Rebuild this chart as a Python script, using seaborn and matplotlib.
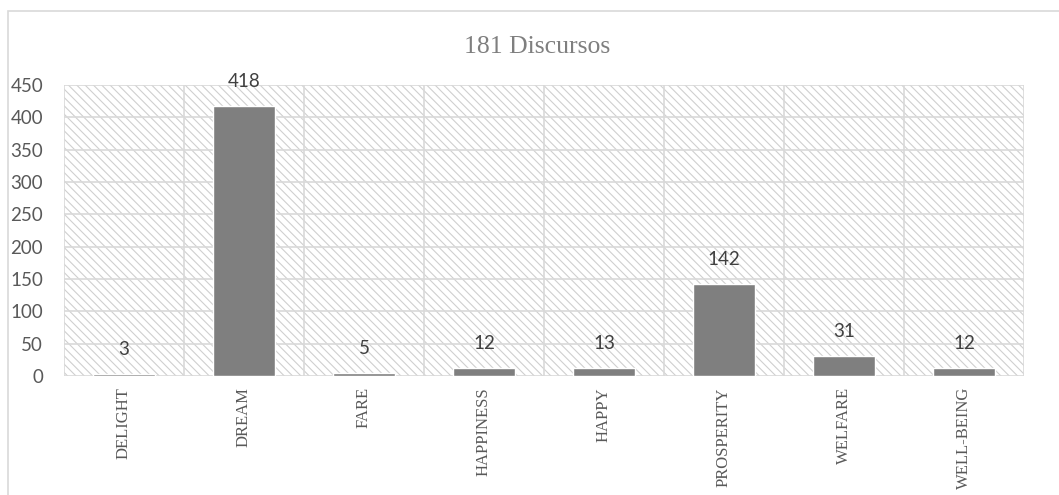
import matplotlib
matplotlib.use("Agg")
import matplotlib.pyplot as plt
import seaborn as sns
import pandas as pd
import numpy as np
from matplotlib.patches import Rectangle
from matplotlib.ticker import FixedLocator

categories = ["DELIGHT", "DREAM", "FARE", "HAPPINESS", "HAPPY", "PROSPERITY", "WELFARE", "WELL-BEING"]
values = [3, 418, 5, 12, 13, 142, 31, 12]
yticks = [0, 50, 100, 150, 200, 250, 300, 350, 400, 450]
title = "181 Discursos"

sns.set_theme(style="white")
plt.rcParams["hatch.linewidth"] = 0.8

df = pd.DataFrame({"cat": categories, "val": values})

fig = plt.figure(figsize=(10.59, 4.95), dpi=100)
ax = fig.add_axes([64 / 1059, 1 - 376 / 495, 960 / 1059, 291 / 495])

# outer chart frame
fig.patches.append(Rectangle((8 / 1059, -0.1), 1.2, 1 - 11 / 495 + 0.1,
                             transform=fig.transFigure, fill=False,
                             edgecolor="#d9d9d9", lw=1.2, zorder=0))

# hatched plot area background
ax.add_patch(Rectangle((0, 0), 1, 1, transform=ax.transAxes, facecolor="white",
                       edgecolor="#cfcfcf", hatch="\\\\\\\\", lw=0, zorder=0))

sns.barplot(data=df, x="cat", y="val", color="#7f7f7f", saturation=1,
            width=0.52, ax=ax, zorder=3)

ax.set_xlim(-0.5, len(categories) - 0.5)
ax.set_ylim(0, 450)
ax.set_yticks(yticks)
ax.set_yticklabels([str(t) for t in yticks], fontfamily="Lato", fontsize=13.5, color="#595959")
ax.xaxis.set_minor_locator(FixedLocator(np.arange(-0.5, len(categories), 1.0)))

ax.grid(False)
ax.yaxis.grid(True, color="#d9d9d9", lw=1.2, zorder=1)
ax.xaxis.grid(True, which="minor", color="#d9d9d9", lw=1.2, zorder=1)
ax.set_axisbelow(True)
for s in ax.spines.values():
    s.set_visible(False)

ax.tick_params(axis="y", length=0, pad=15)
ax.tick_params(axis="x", which="major", length=0, pad=8)
ax.tick_params(axis="x", which="minor", length=4.5, width=1.2, color="#d9d9d9", direction="out")
ax.set_xticks(range(len(categories)))
ax.set_xticklabels(categories, rotation=90, fontfamily="Liberation Serif", fontsize=12, color="#595959")
ax.set_xlabel("")
ax.set_ylabel("")

for i, v in enumerate(values):
    ax.annotate(str(v), (i, v), xytext=(0, 17.5), textcoords="offset points",
                ha="center", va="center", fontfamily="Lato", fontsize=13.5, color="#404040")

fig.text(537 / 1059, 1 - 47 / 495, title, ha="center", va="center",
         fontfamily="Liberation Serif", fontsize=18.5, color="#7f7f7f")

fig.savefig("out.png", dpi=100)
